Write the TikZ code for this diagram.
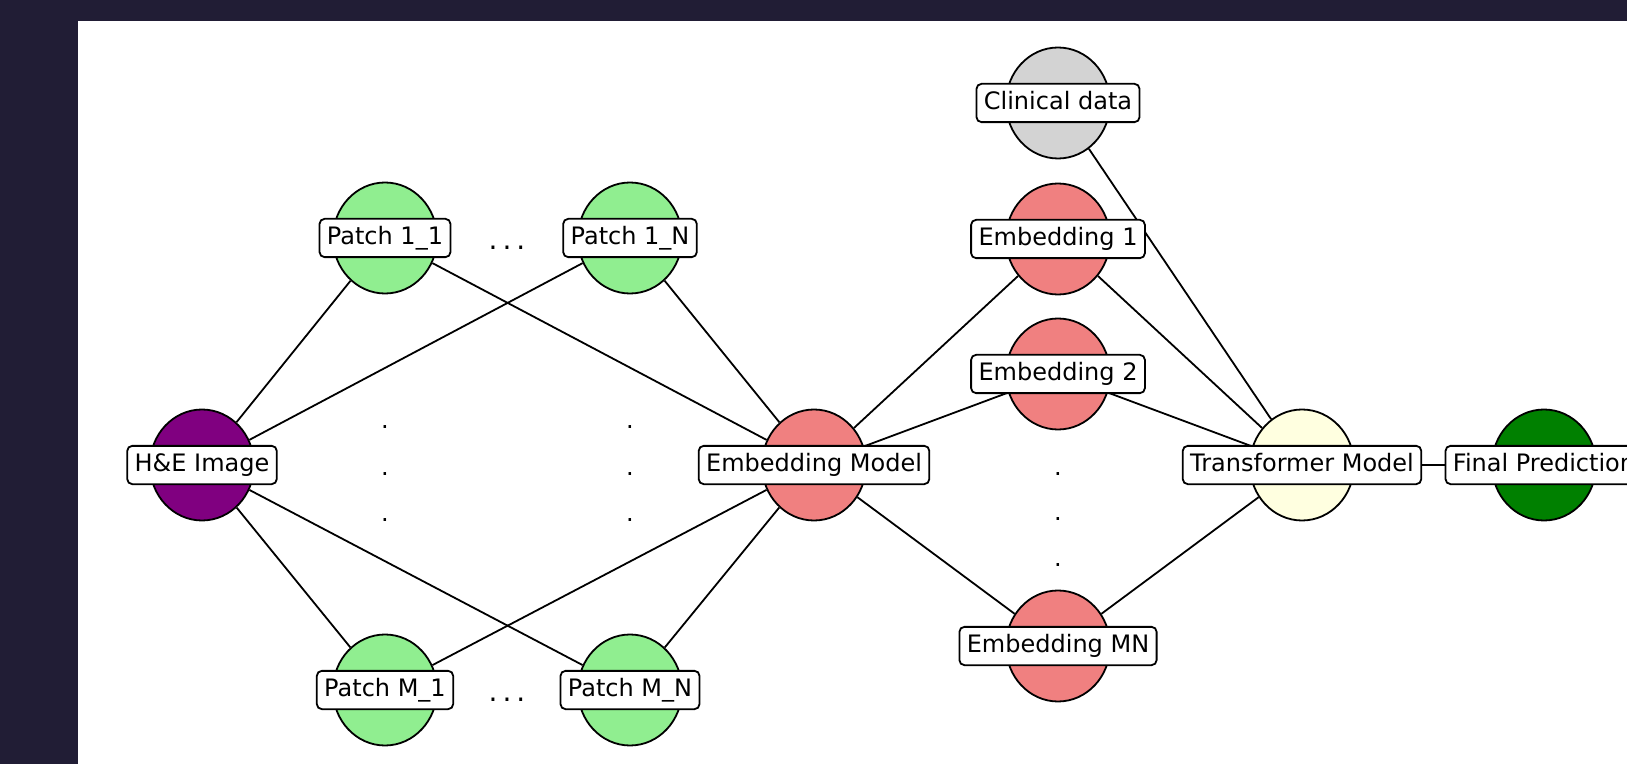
\documentclass[tikz,border=0pt]{standalone}
\usepackage{fontspec}
\setmainfont{DejaVu Sans}
\usetikzlibrary{shapes.geometric}
\definecolor{darkbg}{HTML}{211D35}
\definecolor{mpurple}{HTML}{800080}
\definecolor{mlightgreen}{HTML}{90EE90}
\definecolor{mlightcoral}{HTML}{F08080}
\definecolor{mlightgray}{HTML}{D3D3D3}
\definecolor{mlightyellow}{HTML}{FFFFE0}
\definecolor{mgreen}{HTML}{008000}
\pgfdeclarelayer{bg}
\pgfdeclarelayer{edges}
\pgfsetlayers{bg,edges,main}
\begin{document}
\begin{tikzpicture}[x=0.5pt,y=-0.5pt,
  font=\fontsize{12}{14}\selectfont,
  blob/.style={ellipse, draw, line width=0.9pt, minimum width=52pt, minimum height=55.5pt, inner sep=0pt},
  lbl/.style={draw, fill=white, rounded corners=2.5pt, line width=0.9pt, inner xsep=3.7pt, inner ysep=3pt, text height=10pt, text depth=3.15pt},
  dotlbl/.style={anchor=base, inner sep=0pt},
  hdots/.style={anchor=base, inner sep=0pt, font=\fontsize{14}{16}\selectfont},
  link/.style={line width=0.9pt}]
\useasboundingbox (0,0) rectangle (1627,764);
\clip (0,0) rectangle (1627,764);
\begin{pgfonlayer}{bg}
  \fill[darkbg] (0,0) rectangle (1627,764);
  \fill[white] (78,21) rectangle (1627,764);
\end{pgfonlayer}
% circles
\node[blob, fill=mpurple] (he) at (202,465) {};
\node[blob, fill=mlightgreen] (p11) at (385,238) {};
\node[blob, fill=mlightgreen] (p1n) at (630,238) {};
\node[blob, fill=mlightgreen] (pm1) at (385,690) {};
\node[blob, fill=mlightgreen] (pmn) at (630,690) {};
\node[blob, fill=mlightcoral] (em) at (814,465) {};
\node[blob, fill=mlightgray] (cd) at (1058,103) {};
\node[blob, fill=mlightcoral] (e1) at (1058,239) {};
\node[blob, fill=mlightcoral] (e2) at (1058,374) {};
\node[blob, fill=mlightcoral] (emn) at (1058,646) {};
\node[blob, fill=mlightyellow] (tr) at (1302,465) {};
\node[blob, fill=mgreen] (fp) at (1544,465) {};
% labels
\node[lbl] (heL) at (he) {H\&E Image};
\node[lbl] (p11L) at (p11) {Patch 1\_1};
\node[lbl] (p1nL) at (p1n) {Patch 1\_N};
\node[lbl] (pm1L) at (pm1) {Patch M\_1};
\node[lbl] (pmnL) at (pmn) {Patch M\_N};
\node[lbl] (emL) at (em) {Embedding Model};
\node[lbl] (cdL) at (cd) {Clinical data};
\node[lbl] (e1L) at (e1) {Embedding 1};
\node[lbl] (e2L) at (e2) {Embedding 2};
\node[lbl] (emnL) at (emn) {Embedding MN};
\node[lbl] (trL) at (tr) {Transformer Model};
\node[lbl] (fpL) at (fp) {Final Prediction};
% dots
\node[hdots] (dh1) at (507,250) {.\kern2.5pt.\kern2.5pt.};
\node[hdots] (dh2) at (507,701) {.\kern2.5pt.\kern2.5pt.};
\node[dotlbl] (da1) at (385,429) {.};
\node[dotlbl] (da2) at (385,475) {.};
\node[dotlbl] (da3) at (385,521) {.};
\node[dotlbl] (db1) at (630,429) {.};
\node[dotlbl] (db2) at (630,475) {.};
\node[dotlbl] (db3) at (630,521) {.};
\node[dotlbl] (dc1) at (1058,475) {.};
\node[dotlbl] (dc2) at (1058,520) {.};
\node[dotlbl] (dc3) at (1058,566) {.};
% edges
\begin{pgfonlayer}{edges}
  \draw[link] (he) -- (p11);
  \draw[link] (he) -- (p1n);
  \draw[link] (he) -- (pm1);
  \draw[link] (he) -- (pmn);
  \draw[link] (p11) -- (em);
  \draw[link] (p1n) -- (em);
  \draw[link] (pm1) -- (em);
  \draw[link] (pmn) -- (em);
  \draw[link] (em) -- (e1);
  \draw[link] (em) -- (e2);
  \draw[link] (em) -- (emn);
  \draw[link] (e1) -- (tr);
  \draw[link] (e2) -- (tr);
  \draw[link] (emn) -- (tr);
  \draw[link] (cd) -- (tr);
  \draw[link] (tr) -- (fp);
\end{pgfonlayer}
\end{tikzpicture}
\end{document}
